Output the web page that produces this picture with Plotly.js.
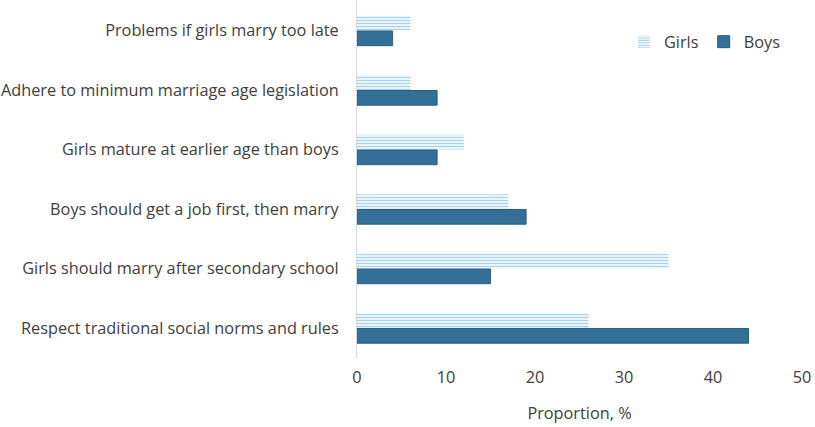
<!DOCTYPE html>
<html>
<head>
<meta charset="utf-8">
<script src="https://cdn.plot.ly/plotly-3.0.1.min.js"></script>
<style>
  html, body { margin: 0; padding: 0; background: #fff; }
  #chart { width: 815px; height: 427px; }
</style>
</head>
<body>
<div id="chart"></div>
<script>
// categories top to bottom
const reasons = [
  "Problems if girls marry too late",
  "Adhere to minimum marriage age legislation",
  "Girls mature at earlier age than boys",
  "Boys should get a job first, then marry",
  "Girls should marry after secondary school",
  "Respect traditional social norms and rules",
];
const girls = [6, 6, 12, 17, 35, 26];
const boys = [4, 9, 9, 19, 15, 44];
const xTicks = [0, 10, 20, 30, 40, 50];

const textColor = "#404040";

const data = [
  {
    name: "Girls",
    type: "bar",
    orientation: "h",
    y: reasons,
    x: girls,
    marker: {
      color: "#ffffff",
      line: { width: 0 },
      pattern: { shape: "-", fgcolor: "#a7d3ec", bgcolor: "#ffffff", size: 3, solidity: 0.5 },
    },
    hoverinfo: "x+name",
  },
  {
    name: "Boys",
    type: "bar",
    orientation: "h",
    y: reasons,
    x: boys,
    marker: { color: "#336f97", line: { color: "#2a5f83", width: 1 } },
    hoverinfo: "x+name",
  },
];

const layout = {
  width: 815,
  height: 427,
  margin: { l: 357, r: 13, t: 1, b: 69 },
  paper_bgcolor: "#ffffff",
  plot_bgcolor: "#ffffff",
  font: { family: "Open Sans, Liberation Sans, sans-serif", size: 16.3, color: textColor },
  barmode: "group",
  bargap: 0.49,
  bargroupgap: 0.03,
  xaxis: {
    range: [0, 50],
    tickvals: xTicks,
    showgrid: false,
    zeroline: false,
    showline: false,
    ticks: "",
    ticklabelstandoff: 8,
    tickfont: { size: 16.3, color: textColor },
    title: { text: "Proportion, %", font: { size: 16.3, color: textColor }, standoff: 20 },
  },
  yaxis: {
    autorange: "reversed",
    showgrid: false,
    zeroline: false,
    showline: true,
    linecolor: "#d9d9d9",
    linewidth: 1,
    ticks: "",
    ticklabelstandoff: 14,
    tickfont: { size: 16.3, color: textColor },
  },
  legend: {
    orientation: "h",
    x: 0.6,
    xanchor: "left",
    y: 0.885,
    yanchor: "middle",
    itemwidth: 30,
    font: { size: 16.3, color: textColor },
    bgcolor: "rgba(0,0,0,0)",
  },
  showlegend: true,
};

Plotly.newPlot("chart", data, layout, { displayModeBar: false, responsive: false });
</script>
</body>
</html>
